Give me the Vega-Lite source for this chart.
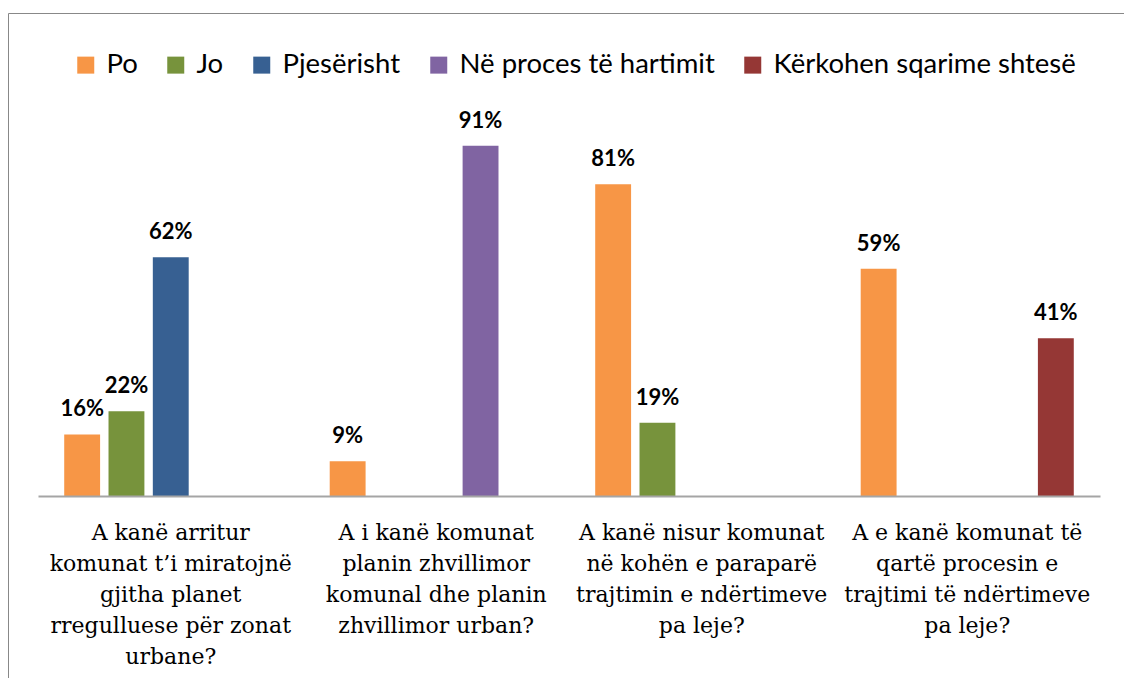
{
  "$schema": "https://vega.github.io/schema/vega-lite/v6.json",
  "width": 1116,
  "height": 665,
  "autosize": {"type": "none"},
  "padding": {"left": 8, "top": 13, "right": 0, "bottom": 0},
  "config": {"view": {"stroke": "#888888", "strokeWidth": 1}, "font": "Lato"},
  "data": {
    "values": [
      {"question": "A kanë arritur|komunat t’i miratojnë|gjitha planet|rregulluese për zonat|urbane?", "answer": "Po", "value": 0.16},
      {"question": "A kanë arritur|komunat t’i miratojnë|gjitha planet|rregulluese për zonat|urbane?", "answer": "Jo", "value": 0.22},
      {"question": "A kanë arritur|komunat t’i miratojnë|gjitha planet|rregulluese për zonat|urbane?", "answer": "Pjesërisht", "value": 0.62},
      {"question": "A i kanë komunat|planin zhvillimor|komunal dhe planin|zhvillimor urban?", "answer": "Po", "value": 0.09},
      {"question": "A i kanë komunat|planin zhvillimor|komunal dhe planin|zhvillimor urban?", "answer": "Në proces të hartimit", "value": 0.91},
      {"question": "A kanë nisur komunat|në kohën e paraparë|trajtimin e ndërtimeve|pa leje?", "answer": "Po", "value": 0.81},
      {"question": "A kanë nisur komunat|në kohën e paraparë|trajtimin e ndërtimeve|pa leje?", "answer": "Jo", "value": 0.19},
      {"question": "A e kanë komunat të|qartë procesin e|trajtimi të ndërtimeve|pa leje?", "answer": "Po", "value": 0.59},
      {"question": "A e kanë komunat të|qartë procesin e|trajtimi të ndërtimeve|pa leje?", "answer": "Kërkohen sqarime shtesë", "value": 0.41}
    ]
  },
  "encoding": {
    "x": {
      "field": "question",
      "type": "nominal",
      "sort": null,
      "scale": {"range": [30, 1092], "paddingInner": 0.1657, "paddingOuter": 0.0829},
      "axis": {
        "orient": "bottom",
        "offset": -182,
        "zindex": 1,
        "domain": true,
        "domainColor": "#A5A5A5",
        "domainWidth": 2,
        "ticks": false,
        "tickSize": 0,
        "grid": false,
        "title": null,
        "labelAngle": 0,
        "labelFont": "DejaVu Serif",
        "labelFontSize": 22,
        "labelLineHeight": 31,
        "labelColor": "#000000",
        "labelBaseline": "alphabetic",
        "labelPadding": 43,
        "labelLimit": 400,
        "labelOverlap": false,
        "labelBound": false,
        "labelExpr": "split(datum.label, '|')"
      }
    },
    "xOffset": {
      "field": "answer",
      "type": "nominal",
      "scale": {
        "domain": ["Po", "Jo", "Pjesërisht", "Në proces të hartimit", "Kërkohen sqarime shtesë"],
        "paddingInner": 0.19,
        "paddingOuter": 0.095
      }
    },
    "y": {
      "field": "value",
      "type": "quantitative",
      "scale": {"domain": [0, 1], "range": [483, 98], "nice": false, "zero": true},
      "axis": null
    }
  },
  "layer": [
    {
      "mark": {"type": "bar"},
      "encoding": {
        "color": {
          "field": "answer",
          "type": "nominal",
          "scale": {
            "domain": ["Po", "Jo", "Pjesërisht", "Në proces të hartimit", "Kërkohen sqarime shtesë"],
            "range": ["#F79646", "#77933C", "#376092", "#8064A2", "#953735"]
          },
          "legend": {
            "orient": "none",
            "legendX": 64,
            "legendY": 38,
            "direction": "horizontal",
            "columns": 5,
            "title": null,
            "symbolType": "square",
            "symbolSize": 289,
            "symbolStrokeWidth": 0,
            "labelFont": "Lato",
            "labelFontSize": 27.5,
            "labelColor": "#000000",
            "labelOffset": 7,
            "columnPadding": 24,
            "padding": 0,
            "labelLimit": 400
          }
        }
      }
    },
    {
      "mark": {"type": "text", "fontWeight": "bold", "fontSize": 22, "font": "Lato", "dy": -18, "baseline": "alphabetic", "color": "#000000"},
      "encoding": {
        "text": {"field": "value", "type": "quantitative", "format": ".0%"}
      }
    }
  ]
}
